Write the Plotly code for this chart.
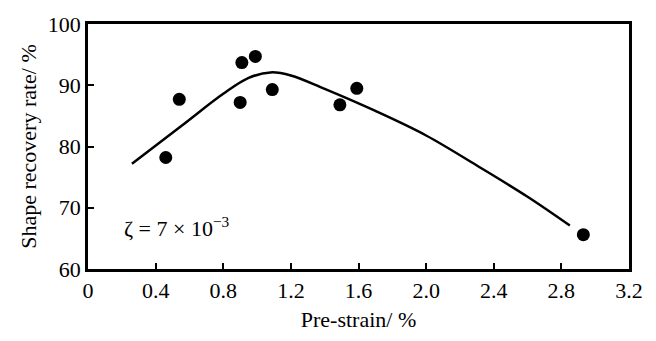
import plotly.graph_objects as go

# Measured shape recovery rate versus pre-strain
pre_strain = [0.46, 0.54, 0.90, 0.91, 0.99, 1.09, 1.49, 1.59, 2.93]
recovery = [78.2, 87.7, 87.2, 93.7, 94.7, 89.3, 86.8, 89.5, 65.6]

# Fitted trend curve
fit_x = [0.26, 0.55, 0.80, 0.95, 1.08, 1.20, 1.40, 1.70, 2.00, 2.30, 2.60, 2.85]
fit_y = [77.2, 83.3, 88.6, 91.2, 92.1, 91.6, 89.4, 85.8, 81.8, 76.9, 71.8, 67.1]

x_ticks = [0, 0.4, 0.8, 1.2, 1.6, 2.0, 2.4, 2.8, 3.2]
x_tick_text = ["0", "0.4", "0.8", "1.2", "1.6", "2.0", "2.4", "2.8", "3.2"]
y_ticks = [60, 70, 80, 90, 100]

serif = "Liberation Serif"

fig = go.Figure()
fig.add_trace(go.Scatter(
    x=fit_x, y=fit_y, mode="lines",
    line=dict(color="black", width=2.5, shape="spline", smoothing=1.0),
    showlegend=False, hoverinfo="skip",
))
fig.add_trace(go.Scatter(
    x=pre_strain, y=recovery, mode="markers",
    marker=dict(color="black", size=13),
    showlegend=False,
))

fig.add_annotation(
    x=0.2, y=66.9, xref="x", yref="y", xanchor="left", yanchor="middle",
    text="ζ = 7 × 10<sup>−3</sup>", showarrow=False,
    font=dict(family=serif, size=22, color="black"),
)

axis_common = dict(
    showgrid=False, zeroline=False,
    showline=True, linecolor="black", linewidth=2.5, mirror=True,
    ticks="inside", ticklen=6, tickwidth=1.5, tickcolor="black",
    tickfont=dict(family=serif, size=22, color="black"),
)

fig.update_xaxes(
    range=[0, 3.2], tickvals=x_ticks, ticktext=x_tick_text,
    title=dict(text="Pre-strain/ %", font=dict(family=serif, size=22, color="black"), standoff=10),
    ticklabelstandoff=0,
    **axis_common,
)
fig.update_yaxes(
    range=[60, 100], tickvals=y_ticks,
    title=dict(text="Shape recovery rate/ %", font=dict(family=serif, size=22, color="black"), standoff=6),
    ticklabelstandoff=0,
    **axis_common,
)

fig.update_layout(
    width=656, height=341,
    margin=dict(l=88, r=27, t=17, b=63),
    paper_bgcolor="white", plot_bgcolor="white",
)

fig.write_html("out.html")
